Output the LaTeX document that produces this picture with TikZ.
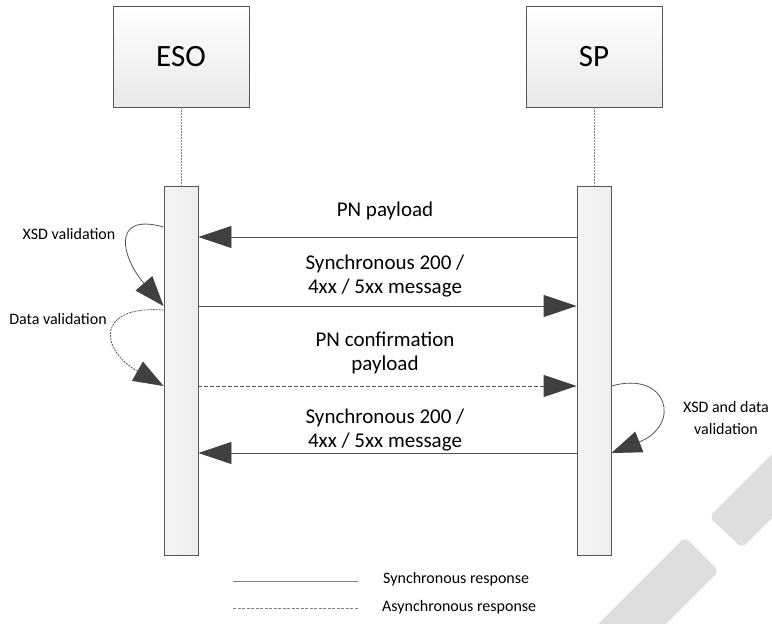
\documentclass[tikz,border=0pt]{standalone}
\usepackage{fontspec}
\setmainfont{Carlito}
\usetikzlibrary{arrows.meta}
\definecolor{linegray}{HTML}{555555}
\definecolor{tipgray}{HTML}{404040}
\definecolor{markgray}{HTML}{DEDEDE}
\tikzset{
  actor/.style={draw=linegray, line width=0.9pt, top color=white, bottom color=black!9,
    minimum width=136pt, minimum height=101pt, inner sep=0pt,
    font=\fontsize{31}{34}\selectfont},
  actbar/.style={draw=linegray, line width=0.9pt, left color=black!4, right color=black!7,
    minimum width=34pt, inner sep=0pt},
  lifeline/.style={draw=gray, line width=0.7pt, dash pattern=on 2pt off 1pt},
  msg/.style={draw=linegray, line width=0.9pt,
    -{Triangle[length=33pt,width=22pt,fill=tipgray,color=tipgray]}},
  asyncmsg/.style={msg, dash pattern=on 4pt off 2pt},
  selfmsg/.style={draw=linegray, line width=0.8pt,
    -{Triangle[length=30pt,width=22pt,fill=tipgray,color=tipgray]}},
  msglabel/.style={align=center, inner sep=0pt, font=\fontsize{21}{24.5}\selectfont},
  sidelabel/.style={align=center, inner sep=0pt, font=\fontsize{16}{21}\selectfont},
  legendline/.style={draw=gray, line width=0.9pt},
  legendtext/.style={anchor=west, inner sep=0pt, font=\fontsize{16}{19}\selectfont}
}
\begin{document}
\begin{tikzpicture}[x=1pt, y=-1pt]
\useasboundingbox (0,0) rectangle (772,624);
\fill[white] (0,0) rectangle (772,624);

% faint diagonal mark in the lower right corner
\begin{scope}
  \clip (0,0) rectangle (772,624);
  \fill[markgray, rounded corners=6pt] (685,537) -- (719,571) -- (640,650) -- (572,650) -- cycle;
  \fill[markgray, rounded corners=6pt] (709,517) -- (742,548) -- (810,480) -- (777,449) -- cycle;
\end{scope}

% participants
\node[actor] (eso) at (181,56.5) {ESO};
\node[actor] (sp)  at (594,56.5) {SP};

% activation bars
\node[actbar, minimum height=369pt] (esobar) at (181,370.5) {};
\node[actbar, minimum height=369pt] (spbar)  at (594,370.5) {};

\draw[lifeline] (eso.south) -- (esobar.north);
\draw[lifeline] (sp.south) -- (spbar.north);

% message heights
\coordinate (y1) at (0,237);
\coordinate (y2) at (0,306);
\coordinate (y3) at (0,386);
\coordinate (y4) at (0,453);

% messages
\draw[msg] (spbar.west |- y1) -- (esobar.east |- y1);
\draw[msg] (esobar.east |- y2) -- (spbar.west |- y2);
\draw[asyncmsg] (esobar.east |- y3) -- (spbar.west |- y3);
\draw[msg] (spbar.west |- y4) -- (esobar.east |- y4);

\node[msglabel] (l1) at (385,211) {PN payload};
\node[msglabel] (l2) at (385,276) {Synchronous 200 /\\4xx / 5xx message};
\node[msglabel] (l3) at (385,353) {PN confirmation\\payload};
\node[msglabel] (l4) at (385,430) {Synchronous 200 /\\4xx / 5xx message};

% self validations
\coordinate (s1) at (0,227);
\coordinate (s2) at (0,310);
\draw[selfmsg] (esobar.west |- s1) .. controls (110,212) and (122,258) .. (esobar.west |- y2);
\draw[selfmsg, dash pattern=on 2pt off 1pt] (esobar.west |- s2) .. controls (95,305) and (100,350) .. (esobar.west |- y3);
\draw[selfmsg] (spbar.east |- y3) .. controls (668,370) and (682,425) .. (spbar.east |- y4);

\node[sidelabel] (v1) at (69,234) {XSD validation};
\node[sidelabel] (v2) at (58,319) {Data validation};
\node[sidelabel] (v3) at (726,418) {XSD and data\\validation};

% legend
\coordinate (la) at (233,581);
\coordinate (lb) at (358,581);
\coordinate (lc) at (233,608);
\coordinate (ld) at (358,608);
\draw[legendline] (la) -- (lb);
\draw[legendline, dash pattern=on 3pt off 1.5pt] (lc) -- (ld);
\node[legendtext] (t1) at (383,579) {Synchronous response};
\node[legendtext] (t2) at (382,607) {Asynchronous response};
\end{tikzpicture}
\end{document}
